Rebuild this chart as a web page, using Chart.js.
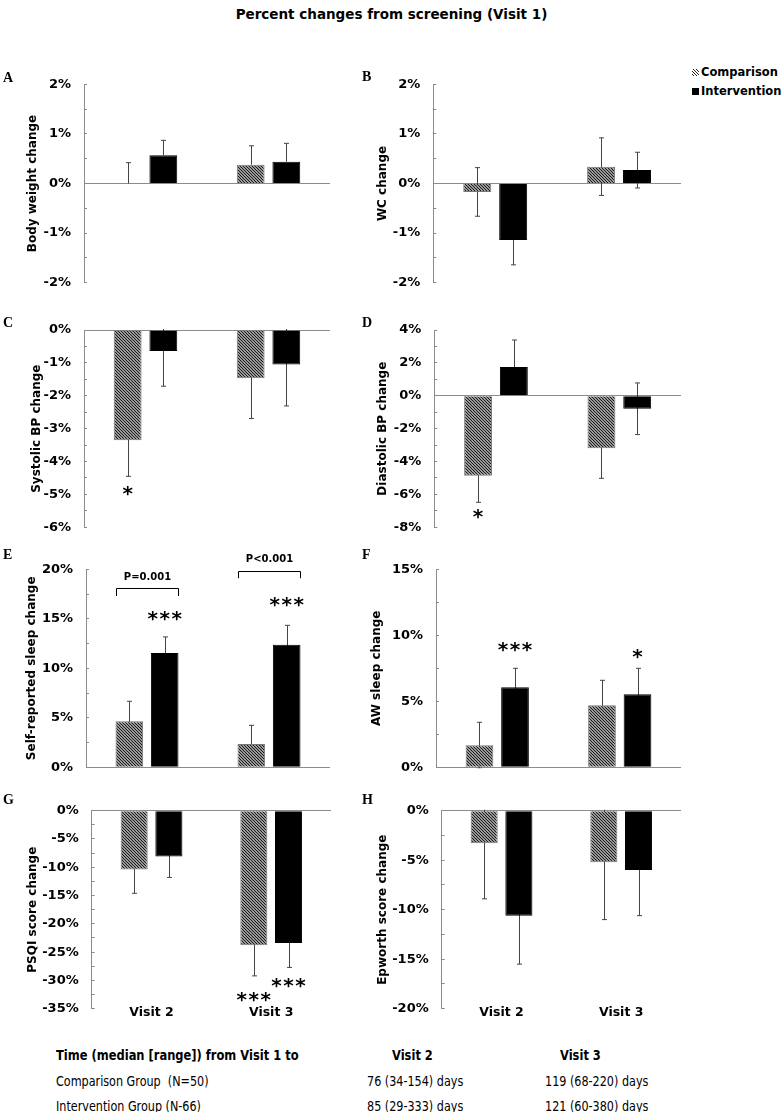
<!DOCTYPE html>
<html lang="en">
<head>
<meta charset="UTF-8">
<title>Percent changes from screening (Visit 1)</title>
<script src="https://cdn.jsdelivr.net/npm/chart.js@4.4.0/dist/chart.umd.min.js"></script>
<style>
  body { margin: 0; background: #fff; }
  #page { position: relative; width: 783px; height: 1112px; overflow: hidden; font-family: "DejaVu Sans", Verdana, sans-serif; color: #000; }
  #page canvas { position: absolute; }
  .abs { position: absolute; white-space: nowrap; }
  #title { top: 5px; left: 0; width: 783px; text-align: center; font-weight: bold; font-size: 13.5px; line-height: 18px; }
  .letter { font-family: "Liberation Serif", "Times New Roman", serif; font-weight: bold; font-size: 14px; line-height: 14px; }
  .leg { font-weight: bold; font-size: 11.5px; line-height: 14px; }
  .sw { display: inline-block; width: 7px; height: 7px; margin-right: 2px; vertical-align: 0px; }
  .hatch { background: repeating-linear-gradient(45deg, #fff 0 0.8px, #222 0.8px 2.1px); }
  .tb { font-size: 14px; line-height: 16px; transform: scaleX(0.8); transform-origin: left center; }
  .th { font-size: 13.5px; font-weight: bold; line-height: 16px; transform: scaleX(0.85); transform-origin: left center; }
</style>
</head>
<body>
<div id="page">
  <div id="title" class="abs">Percent changes from screening (Visit 1)</div>
  <div class="abs leg" style="left:692px; top:65px;"><span class="sw hatch"></span>Comparison</div>
  <div class="abs leg" style="left:692px; top:84px;"><span class="sw" style="background:#000"></span>Intervention</div>

  <div class="abs th" style="left:56px; top:1047px;">Time (median [range]) from Visit 1 to</div>
  <div class="abs th" style="left:392px; top:1047px;">Visit 2</div>
  <div class="abs th" style="left:560px; top:1047px;">Visit 3</div>
  <div class="abs tb" style="left:56px; top:1073px;">Comparison Group&nbsp; (N=50)</div>
  <div class="abs tb" style="left:367px; top:1073px;">76 (34-154) days</div>
  <div class="abs tb" style="left:545px; top:1073px;">119 (68-220) days</div>
  <div class="abs tb" style="left:56px; top:1098px;">Intervention Group (N-66)</div>
  <div class="abs tb" style="left:367px; top:1098px;">85 (29-333) days</div>
  <div class="abs tb" style="left:545px; top:1098px;">121 (60-380) days</div>
</div>

<script>
// ---- data (percent change from Visit 1) ----
const categories = ['Visit 2', 'Visit 3'];
const panelLetters = ['A', 'B', 'C', 'D', 'E', 'F', 'G', 'H'];
const yTitles = ['Body weight change', 'WC change', 'Systolic BP change', 'Diastolic BP change',
                 'Self-reported sleep change', 'AW sleep change', 'PSQI score change', 'Epworth score change'];

const comparison   = [[0.0, 0.38], [-0.17, 0.34], [-3.35, -1.47], [-4.86, -3.19],
                      [4.65, 2.36], [1.67, 4.70], [-10.4, -23.8], [-3.3, -5.2]];
const compError    = [[0.42, 0.38], [0.49, 0.58], [1.10, 1.22], [1.62, 1.83],
                      [2.02, 1.88], [1.74, 1.89], [4.2, 5.4], [5.6, 5.8]];
const intervention = [[0.57, 0.44], [-1.14, 0.27], [-0.64, -1.05], [1.75, -0.79],
                      [11.55, 12.39], [6.06, 5.53], [-8.1, -23.4], [-10.6, -6.0]];
const intError     = [[0.30, 0.37], [0.50, 0.36], [1.07, 1.26], [1.64, 1.57],
                      [1.62, 1.95], [1.44, 1.97], [3.7, 4.3], [4.9, 4.6]];
// panel A shows only the upper half of its error bars
const errBoth = [false, true, true, true, true, true, true, true];

const yMin  = [-2, -2, -6, -8, 0, 0, -35, -20];
const yMax  = [2, 2, 0, 4, 20, 15, 0, 0];
const yStep = [1, 1, 1, 2, 5, 5, 5, 5];

// significance marks: category, series (0 comparison, 1 intervention), value where it sits
const stars = [
  [], [],
  [{ cat: 0, series: 0, at: -4.83, text: '*' }],
  [{ cat: 0, series: 0, at: -7.05, text: '*' }],
  [{ cat: 0, series: 1, at: 15.5, text: '***' }, { cat: 1, series: 1, at: 16.9, text: '***' }],
  [{ cat: 0, series: 1, at: 9.3, text: '***' }, { cat: 1, series: 1, at: 8.7, text: '*' }],
  [{ cat: 1, series: 0, at: -32.5, text: '***' }, { cat: 1, series: 1, at: -30.1, text: '***' }],
  []
];
const brackets = [
  [], [], [], [],
  [{ cat: 0, top: 18.1, end: 17.3, text: 'P=0.001', at: 19.2 },
   { cat: 1, top: 19.8, end: 19.1, text: 'P<0.001', at: 21.0 }],
  [], [], []
];

// ---- layout ----
// canvases overlap a little (they are transparent) so Chart.js has room for label padding
const rowTop = [55, 300, 540, 780];
const rowAreaTop = [84.3, 330, 569.3, 810.7];
const rowAreaBottom = [282.7, 527.3, 767.3, 1008.7];
const axisX = [84, 433.3, 84, 434.3, 86, 436, 91.7, 441.7];
const axisRight = [330, 681, 330, 681, 330, 681, 331, 681];
const titleX = [33.3, 382.7, 36.7, 383.3, 32, 376.7, 33.3, 383.3];
const letterPos = [[3, 73], [362, 72], [3, 318], [362, 318], [3, 550], [362, 550], [3, 795], [362, 795]];
const canvasH = 260;
const xAxisH = 22;

const page = document.getElementById('page');

function hatchPattern() {
  const c = document.createElement('canvas');
  c.width = 3; c.height = 3;
  const g = c.getContext('2d');
  g.fillStyle = '#fff';
  g.fillRect(0, 0, 3, 3);
  g.strokeStyle = '#1a1a1a';
  g.lineWidth = 1.3;
  g.beginPath();
  g.moveTo(-1, -1); g.lineTo(4, 4);
  g.moveTo(-1, 2); g.lineTo(1, 4);
  g.moveTo(2, -1); g.lineTo(4, 1);
  g.stroke();
  return g.createPattern(c, 'repeat');
}
const hatch = hatchPattern();

function drawStar(ctx, x, y, text) {
  const n = text.length;
  ctx.font = 'bold 20px "DejaVu Sans"';
  ctx.textAlign = 'center';
  ctx.textBaseline = 'alphabetic';
  for (let k = 0; k < n; k++) {
    ctx.fillText('*', x + (k - (n - 1) / 2) * 12, y + 11);
  }
}

const extras = {
  id: 'extras',
  afterLayout(chart) {
    // category labels sit right on the bottom edge of the plot, as in the original
    const xs = chart.scales.x;
    if (xs.options.display) xs.top -= 3;
  },
  beforeDatasetsDraw(chart, args, opts) {
    const p = opts.panel;
    const ys = chart.scales.y;
    const a = chart.chartArea;
    const ctx = chart.ctx;
    ctx.save();
    ctx.beginPath();
    ctx.rect(a.left, a.top - 1, a.right - a.left, a.bottom - a.top + 2);
    ctx.clip();
    ctx.strokeStyle = '#444';
    ctx.lineWidth = 1;
    [[comparison, compError], [intervention, intError]].forEach(([vals, errs], d) => {
      const meta = chart.getDatasetMeta(d);
      vals[p].forEach((v, j) => {
        const x = Math.round(meta.data[j].x) + 0.5;
        const s = v >= 0 ? 1 : -1;
        const yFar = ys.getPixelForValue(v + s * errs[p][j]);
        const yNear = errBoth[p] ? ys.getPixelForValue(v - s * errs[p][j]) : ys.getPixelForValue(v);
        ctx.beginPath();
        ctx.moveTo(x, yNear); ctx.lineTo(x, yFar);
        ctx.moveTo(x - 2.5, yFar); ctx.lineTo(x + 2.5, yFar);
        if (errBoth[p]) { ctx.moveTo(x - 2.5, yNear); ctx.lineTo(x + 2.5, yNear); }
        ctx.stroke();
      });
    });
    ctx.restore();
  },
  afterDatasetsDraw(chart, args, opts) {
    const p = opts.panel;
    const ys = chart.scales.y;
    const ctx = chart.ctx;
    ctx.save();
    ctx.fillStyle = '#000';
    stars[p].forEach(s => {
      const bar = chart.getDatasetMeta(s.series).data[s.cat];
      drawStar(ctx, bar.x, ys.getPixelForValue(s.at), s.text);
    });
    brackets[p].forEach(b => {
      const c = chart.getDatasetMeta(0).data[b.cat];
      const i = chart.getDatasetMeta(1).data[b.cat];
      const x0 = Math.round(c.x - c.width / 2) + 0.5;
      const x1 = Math.round(i.x + i.width / 2) + 0.5;
      const yt = Math.round(ys.getPixelForValue(b.top)) + 0.5;
      const ye = ys.getPixelForValue(b.end);
      ctx.strokeStyle = '#000';
      ctx.lineWidth = 1;
      ctx.beginPath();
      ctx.moveTo(x0, ye); ctx.lineTo(x0, yt); ctx.lineTo(x1, yt); ctx.lineTo(x1, ye);
      ctx.stroke();
      ctx.font = 'bold 10px "DejaVu Sans"';
      ctx.textAlign = 'center';
      ctx.textBaseline = 'middle';
      ctx.fillText(b.text, (x0 + x1) / 2, ys.getPixelForValue(b.at));
    });
    ctx.restore();
  }
};

function makePanel(p) {
  const col = p % 2, row = Math.floor(p / 2);
  const left = col ? 360 : 0;
  const width = col ? 423 : 360;
  const top = rowTop[row];
  const showX = row === 3;

  const cv = document.createElement('canvas');
  cv.width = width; cv.height = canvasH;
  cv.style.left = left + 'px'; cv.style.top = top + 'px';
  page.appendChild(cv);

  const lt = document.createElement('div');
  lt.className = 'abs letter';
  lt.textContent = panelLetters[p];
  lt.style.left = letterPos[p][0] + 'px';
  lt.style.top = (letterPos[p][1] - 2.4) + 'px';
  page.appendChild(lt);

  const tickFont = { family: '"DejaVu Sans"', size: 13, weight: 'bold' };
  const step = yStep[p];

  new Chart(cv.getContext('2d'), {
    type: 'bar',
    data: {
      labels: categories,
      datasets: [
        { label: 'Comparison', data: comparison[p], backgroundColor: hatch, borderColor: '#777', borderWidth: 1,
          categoryPercentage: 0.58, barPercentage: 0.78 },
        { label: 'Intervention', data: intervention[p], backgroundColor: '#000', borderColor: '#000', borderWidth: 1,
          categoryPercentage: 0.58, barPercentage: 0.78 }
      ]
    },
    options: {
      responsive: false,
      animation: false,
      events: [],
      layout: {
        padding: {
          left: 0,
          right: width - (axisRight[p] - left),
          top: rowAreaTop[row] - top,
          bottom: top + canvasH - rowAreaBottom[row] - (showX ? xAxisH : 0)
        }
      },
      plugins: {
        legend: { display: false },
        tooltip: { enabled: false },
        extras: { panel: p }
      },
      scales: {
        x: {
          display: showX,
          grid: { display: false, drawTicks: false },
          border: { display: false },
          ticks: { font: { family: '"DejaVu Sans"', size: 12.5, weight: 'bold' }, color: '#000', padding: 0 },
          afterFit: s => { s.height = showX ? xAxisH : 0; }
        },
        y: {
          min: yMin[p],
          max: yMax[p],
          afterBuildTicks: axis => {
            const t = [];
            for (let v = yMin[p]; v <= yMax[p] + 1e-9; v += step / 2) t.push({ value: v });
            axis.ticks = t;
          },
          ticks: {
            autoSkip: false,
            font: tickFont,
            color: '#000',
            padding: 16,
            callback: v => Math.abs(v / step - Math.round(v / step)) < 1e-6 ? v + '%' : ''
          },
          grid: {
            color: c => c.tick && Math.abs(c.tick.value) < 1e-9 ? '#8c8c8c' : 'rgba(0,0,0,0)',
            tickColor: '#8c8c8c',
            tickLength: -3,
            lineWidth: 1
          },
          border: { color: '#8c8c8c', width: 1 },
          title: {
            display: true,
            text: yTitles[p],
            color: '#000',
            font: { family: '"DejaVu Sans"', size: 12, weight: 'bold' },
            padding: { top: titleX[p] - left - 7.2, bottom: 0 }
          },
          afterFit: s => { s.width = axisX[p] - left; }
        }
      }
    },
    plugins: [extras]
  });
}

for (let p = 0; p < 8; p++) makePanel(p);
</script>
</body>
</html>
